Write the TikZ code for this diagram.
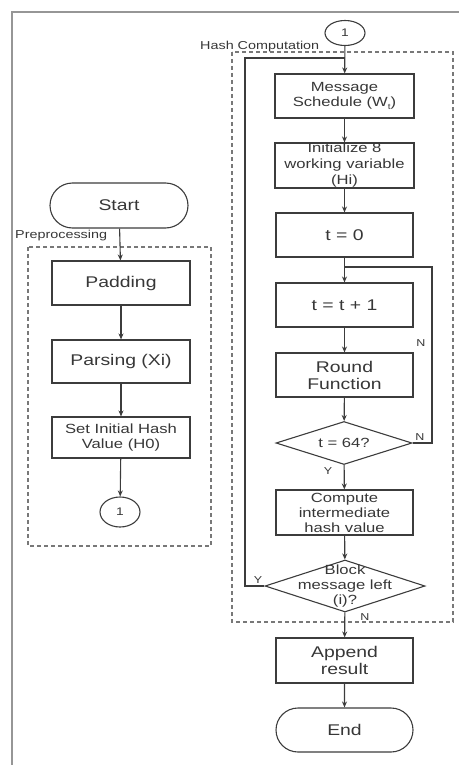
\documentclass[tikz,border=0pt]{standalone}
\usepackage{fontspec}
\usetikzlibrary{shapes.geometric,shapes.misc,arrows.meta}
\newfontfamily\sfx{Liberation Sans}[FakeStretch=1.25]
\newcommand\lowsub[1]{\raisebox{-0.35ex}{\fontsize{8}{8}\selectfont #1}}
\definecolor{linec}{RGB}{60,60,60}
\definecolor{textc}{RGB}{55,55,55}
\definecolor{framec}{RGB}{150,150,150}
\tikzset{
  x=1pt, y=1pt,
  bigf/.style={font=\sfx\fontsize{15.5}{17}\selectfont},
  midf/.style={font=\sfx\fontsize{13.3}{15}\selectfont},
  labf/.style={font=\sfx\fontsize{11.5}{12}\selectfont, text=textc},
  ynf/.style={font=\sfx\fontsize{10}{10}\selectfont, text=textc},
  procbox/.style={draw=linec, line width=1.1pt, rectangle, inner sep=0pt,
    align=center, text=textc},
  termbox/.style={procbox, rounded rectangle},
  decbox/.style={draw=linec, line width=1.1pt, diamond, inner sep=0pt},
  dectext/.style={midf, align=center, text=textc, inner sep=0pt},
  connbox/.style={draw=linec, line width=1.1pt, ellipse, inner sep=0pt,
    text=textc, font=\sfx\fontsize{11}{11}\selectfont},
  flow/.style={draw=linec, line width=1.1pt, -{Stealth[length=6pt,width=5pt]}},
  plain/.style={draw=linec, line width=1.1pt},
  group/.style={draw=framec!80!black, line width=1.2pt, dash pattern=on 4pt off 3pt},
}
\begin{document}
\begin{tikzpicture}
\useasboundingbox (0,0) rectangle (459,-765);

% outer frame
\draw[framec, line width=2pt] (12,-765) -- (12,-12) -- (459,-12);

% group frames
\draw[group] (28,-247) rectangle (211,-546);
\node[labf, anchor=south west, inner sep=0pt] (prelab) at (15,-241) {Preprocessing};
\draw[group] (232,-52) rectangle (453,-622);
\node[labf, anchor=south west, inner sep=0pt] (hashlab) at (200,-52) {Hash Computation};

% preprocessing column
\node[termbox, bigf, minimum width=138pt, minimum height=45pt] (start) at (119,-205.5) {Start};
\node[procbox, bigf, minimum width=138pt, minimum height=44pt] (pad) at (121,-283) {Padding};
\node[procbox, bigf, minimum width=138pt, minimum height=43pt] (pars) at (121,-361.5) {Parsing (Xi)};
\node[procbox, midf, minimum width=138pt, minimum height=41pt] (seti) at (121,-437.5) {Set Initial Hash\\Value (H0)};
\node[connbox, minimum width=40pt, minimum height=30pt] (c1l) at (120,-512) {1};

\draw[flow] (start) -- (pad);
\draw[flow] (pad) -- (pars);
\draw[flow] (pars) -- (seti);
\draw[flow] (seti) -- (c1l);

% hash computation column
\node[connbox, minimum width=40pt, minimum height=25pt] (c1t) at (345,-33) {1};
\node[procbox, midf, minimum width=139pt, minimum height=44pt] (msg) at (344.5,-96) {Message\\Schedule (W\lowsub{t})};
\node[procbox, midf, minimum width=139pt, minimum height=45pt, font=\sfx\fontsize{13.3}{16}\selectfont] (init) at (344.5,-165.5) {Initialize 8\\working variable\\(Hi)};
\node[procbox, bigf, minimum width=137pt, minimum height=44pt] (t0) at (344.5,-235) {t = 0};
\node[procbox, bigf, minimum width=137pt, minimum height=44pt] (tinc) at (344.5,-305) {t = t + 1};
\node[procbox, bigf, minimum width=137pt, minimum height=44pt] (round) at (344.5,-375) {Round\\Function};
\node[decbox, minimum width=136pt, minimum height=43pt] (dec1) at (344,-443) {};
\node[dectext] (dec1txt) at (dec1) {t = 64?};
\node[procbox, midf, minimum width=137pt, minimum height=45pt] (comp) at (344.5,-512.5) {Compute\\intermediate\\hash value};
\node[decbox, minimum width=160pt, minimum height=52pt] (dec2) at (345,-586) {};
\node[dectext] (dec2txt) at (dec2) {Block\\message left\\(i)?};
\node[procbox, bigf, minimum width=137pt, minimum height=45pt] (app) at (344.5,-660.5) {Append\\result};
\node[termbox, bigf, minimum width=137pt, minimum height=44pt] (endn) at (344.5,-730) {End};

\coordinate (j0) at (345,-58);
\coordinate (j1) at (345,-267);

\draw[flow] (c1t) -- (msg);
\draw[flow] (msg) -- (init);
\draw[flow] (init) -- (t0);
\draw[flow] (t0) -- (tinc);
\draw[flow] (tinc) -- (round);
\draw[flow] (round) -- (dec1);
\draw[flow] (dec1) -- (comp);
\draw[flow] (comp) -- (dec2);
\draw[flow] (dec2) -- (app);
\draw[flow] (app) -- (endn);

% loop back edges
\draw[plain] (dec1.east) -- (432,-443) -- (432,-267) -- (j1);
\draw[plain] (dec2.west) -- (245,-586) -- (245,-58) -- (j0);

% branch labels
\node[ynf] (n1) at (421,-343) {N};
\node[ynf] (n2) at (420,-437) {N};
\node[ynf] (y1) at (328,-471) {Y};
\node[ynf] (y2) at (258,-580) {Y};
\node[ynf] (n3) at (365,-617) {N};
\end{tikzpicture}
\end{document}
